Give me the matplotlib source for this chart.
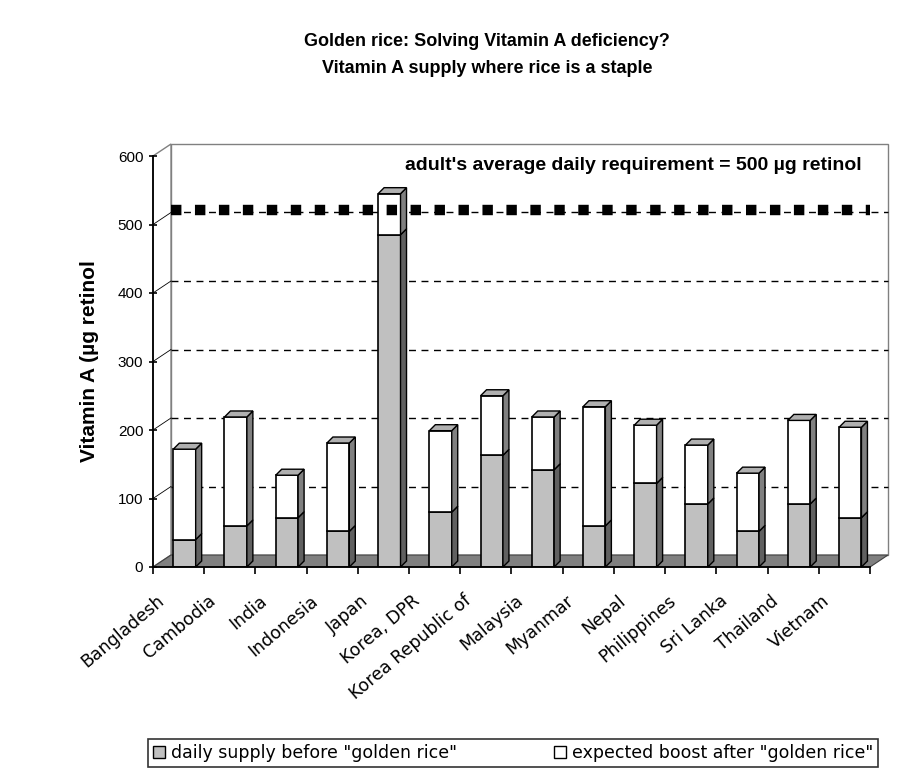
import numpy as np
import matplotlib
matplotlib.use('Agg')
import matplotlib.pyplot as plt
from matplotlib.patches import Polygon, Patch

# values (µg retinol per person per day)
countries = ['Bangladesh', 'Cambodia', 'India', 'Indonesia', 'Japan', 'Korea, DPR',
             'Korea Republic of', 'Malaysia', 'Myanmar', 'Nepal', 'Philippines',
             'Sri Lanka', 'Thailand', 'Vietnam']
before = [40, 60, 72, 52, 485, 80, 163, 142, 60, 122, 92, 52, 92, 72]
boost = [132, 159, 62, 129, 60, 119, 87, 77, 174, 85, 86, 85, 122, 132]
requirement = 500
yticks = [0, 100, 200, 300, 400, 500, 600]

W, H = 904, 773
PX_X = 717 / 14          # px per category
PX_Y = 411 / 600         # px per µg
WALL_DX, WALL_DY = 18 / PX_X, 12 / PX_Y      # depth of the 3D box
BAR_DX, BAR_DY = 6 / PX_X, 6 / PX_Y          # depth of a column
BAR_OFF, BAR_W = 0.396, 0.437

SANS = ['Liberation Sans', 'DejaVu Sans']
WIDE = ['DejaVu Sans']

fig = plt.figure(figsize=(W / 100, H / 100), dpi=100)
ax = fig.add_axes([153 / W, (H - 567) / H, 717 / W, 411 / H])
ax.set_xlim(0, 14)
ax.set_ylim(0, 600)
n = len(countries)

# back wall, left wall, floor
ax.add_patch(Polygon([(WALL_DX, WALL_DY), (n + WALL_DX, WALL_DY),
                      (n + WALL_DX, 600 + WALL_DY), (WALL_DX, 600 + WALL_DY)],
                     closed=True, fc='white', ec='#808080', lw=1, zorder=0,
                     clip_on=False))
ax.add_patch(Polygon([(0, 0), (WALL_DX, WALL_DY), (WALL_DX, 600 + WALL_DY), (0, 600)],
                     closed=True, fc='white', ec='#808080', lw=1, zorder=0,
                     clip_on=False))
ax.add_patch(Polygon([(0, 0), (n, 0), (n + WALL_DX, WALL_DY), (WALL_DX, WALL_DY)],
                     closed=True, fc='#808080', ec='#404040', lw=0.8, zorder=1,
                     clip_on=False))

# gridlines on the back wall (and a stub on the left wall)
for v in yticks[1:-1]:
    ax.plot([WALL_DX, n + WALL_DX], [v + WALL_DY, v + WALL_DY], color='black',
            lw=1, dashes=(5, 4), zorder=1, clip_on=False)
    ax.plot([0, WALL_DX], [v, v + WALL_DY], color='black', lw=0.6,
            zorder=1, clip_on=False)

x = np.arange(n)
left = x + BAR_OFF
top = np.array(before) + np.array(boost)

ax.bar(left, before, width=BAR_W, align='edge', color='#C0C0C0', edgecolor='black',
       lw=1.2, zorder=3)
ax.bar(left, boost, bottom=before, width=BAR_W, align='edge', color='white',
       edgecolor='black', lw=1.2, zorder=3)

for xl, b, t in zip(left, before, top):
    xr = xl + BAR_W
    # side faces
    ax.add_patch(Polygon([(xr, 0), (xr + BAR_DX, BAR_DY), (xr + BAR_DX, b + BAR_DY), (xr, b)],
                         closed=True, fc='#606060', ec='black', lw=1, zorder=3,
                         clip_on=False))
    ax.add_patch(Polygon([(xr, b), (xr + BAR_DX, b + BAR_DY), (xr + BAR_DX, t + BAR_DY), (xr, t)],
                         closed=True, fc='#808080', ec='black', lw=1, zorder=3,
                         clip_on=False))
    # top face
    ax.add_patch(Polygon([(xl, t), (xr, t), (xr + BAR_DX, t + BAR_DY), (xl + BAR_DX, t + BAR_DY)],
                         closed=True, fc='#B0B0B0', ec='black', lw=1, zorder=3,
                         clip_on=False))

# requirement line (square dashes), drawn in front of the columns
ax.plot([WALL_DX, n], [requirement + 3 + WALL_DY] * 2, color='black', lw=7.5,
        dashes=(1.0, 1.3), solid_capstyle='butt', dash_capstyle='butt',
        zorder=5, clip_on=False)

# axes
for s in ['top', 'right']:
    ax.spines[s].set_visible(False)
ax.spines['left'].set_linewidth(1.3)
ax.spines['bottom'].set_linewidth(1.3)
ax.spines['left'].set_zorder(6)
ax.spines['bottom'].set_zorder(6)
ax.set_yticks(yticks)
ax.set_yticklabels([str(v) for v in yticks], family=SANS, fontsize=11)
ax.tick_params(axis='y', direction='inout', length=6, width=1.2, pad=4)
ax.set_xticks(np.arange(n + 1))
ax.set_xticklabels([])
ax.tick_params(axis='x', direction='out', length=5, width=1.2)

for i, c in enumerate(countries):
    ax.text(i + 0.06, -36, c, rotation=40, rotation_mode='anchor', ha='right',
            va='top', fontsize=12.5, family=WIDE, clip_on=False)

fig.text(90 / W, 1 - 361 / H, 'Vitamin A (µg retinol', rotation=90, ha='center',
         va='center', family=SANS, fontweight='bold', fontsize=15)

fig.text(862 / W, 1 - 170 / H, "adult's average daily requirement = 500 µg retinol",
         ha='right', va='baseline', family=SANS, fontweight='bold', fontsize=14)

fig.text(487 / W, 1 - 55 / H,
         'Golden rice: Solving Vitamin A deficiency?\nVitamin A supply where rice is a staple',
         ha='center', va='center', family=SANS, fontweight='bold', fontsize=13,
         linespacing=1.75)

handles = [Patch(fc='#C0C0C0', ec='black', lw=1, label='daily supply before "golden rice"'),
           Patch(fc='white', ec='black', lw=1, label='expected boost after "golden rice"')]
leg = fig.legend(handles=handles, loc='lower left', ncol=2, mode='expand',
                 bbox_to_anchor=(148 / W, 1 - 767 / H, 730 / W, 30 / H),
                 borderaxespad=0, fancybox=False, frameon=True, edgecolor='black',
                 prop={'family': WIDE, 'size': 12.5}, handlelength=0.7,
                 handleheight=0.7, handletextpad=0.3, borderpad=0.3)
leg.get_frame().set_linewidth(1.2)

fig.savefig('out.png', dpi=100)
